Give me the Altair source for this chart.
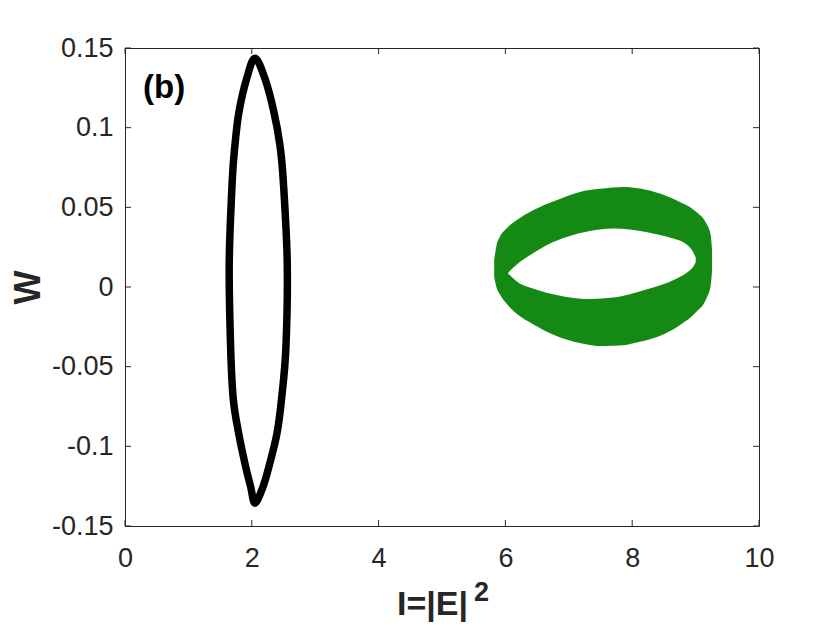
import altair as alt
import pandas as pd

# ---- data ----
# black closed orbit (centre line of the thick black curve), clockwise from the top
black_x = [2.05, 2.207, 2.349, 2.444, 2.496, 2.559, 2.538, 2.470, 2.397, 2.270, 2.176, 2.05,
           1.982, 1.903, 1.793, 1.707, 1.666, 1.644, 1.692, 1.734, 1.797, 1.919]
black_y = [0.1435, 0.1308, 0.1098, 0.0890, 0.0670, 0.0149, -0.0378, -0.0700, -0.0919, -0.1128, -0.1254, -0.1357,
           -0.1254, -0.1128, -0.0919, -0.0700, -0.0378, 0.0149, 0.0670, 0.0890, 0.1098, 0.1308]

# green band: outer boundary (top / bottom as function of I)
green_outer_x = [5.823, 5.860, 5.912, 6.017, 6.175, 6.437, 6.806, 7.173, 7.541, 7.856, 8.119, 8.434,
                 8.750, 9.013, 9.170, 9.239, 9.260]
green_outer_top = [0.0168, 0.0262, 0.0314, 0.0367, 0.0419, 0.0482, 0.0545, 0.0597, 0.0618, 0.0628,
                   0.0618, 0.0587, 0.0534, 0.0471, 0.0398, 0.0325, 0.0231]
green_outer_bottom = [0.0063, -0.0003, -0.0045, -0.0104, -0.0166, -0.0233, -0.0307, -0.0351, -0.0371,
                      -0.0366, -0.0344, -0.0307, -0.0240, -0.0156, -0.0072, 0.0011, 0.0105]
# green band: inner (empty) region
green_inner_x = [6.043, 6.227, 6.385, 6.648, 6.963, 7.331, 7.699, 7.962, 8.329, 8.645, 8.855, 8.960, 9.002]
green_inner_top = [0.0090, 0.0157, 0.0200, 0.0262, 0.0314, 0.0352, 0.0367, 0.0361, 0.0336, 0.0304,
                   0.0268, 0.0220, 0.0185]
green_inner_bottom = [0.0085, 0.0022, -0.0003, -0.0036, -0.0062, -0.0075, -0.0066, -0.0045, -0.0003,
                      0.0043, 0.0088, 0.0126, 0.0155]

x_ticks = [0, 2, 4, 6, 8, 10]
y_ticks = [-0.15, -0.1, -0.05, 0, 0.05, 0.1, 0.15]

W, H = 634, 478
FONT = "Liberation Sans"
TXT = "#262626"

xs = alt.Scale(domain=[0, 10], nice=False, zero=False)
ys = alt.Scale(domain=[-0.15, 0.15], nice=False, zero=False)

xaxis = alt.Axis(values=x_ticks, grid=False, domain=False, ticks=False, tickSize=0,
                 labelFont=FONT, labelFontSize=27, labelColor=TXT, labelPadding=40,
                 labelBaseline="alphabetic", labelFlush=False,
                 labelExpr="format(datum.value, '~g')",
                 title="I=|E|", titleFont=FONT, titleFontSize=34, titleFontWeight="bold",
                 titleColor=TXT, titleX=307, titleY=88, titleBaseline="alphabetic")
yaxis = alt.Axis(values=y_ticks, grid=False, domain=False, ticks=False, tickSize=0,
                 labelFont=FONT, labelFontSize=27, labelColor=TXT, labelPadding=12,
                 labelFlush=False,
                 labelExpr="replace(format(datum.value, '.2~f'), '\u2212', '-')",
                 title="W", titleFont=FONT, titleFontSize=36, titleFontWeight="bold",
                 titleColor=TXT, titleX=-86, titleY=H / 2, titleBaseline="alphabetic",
                 titleAngle=270)

outer_df = pd.DataFrame({"x": green_outer_x, "top": green_outer_top, "bottom": green_outer_bottom})
inner_df = pd.DataFrame({"x": green_inner_x, "top": green_inner_top, "bottom": green_inner_bottom})
black_df = pd.DataFrame({"x": black_x, "y": black_y, "i": list(range(len(black_x)))})

green_outer = alt.Chart(outer_df).mark_area(color="#008000", opacity=0.92, interpolate="monotone").encode(
    x=alt.X("x:Q", scale=xs, axis=xaxis),
    y=alt.Y("top:Q", scale=ys, axis=yaxis),
    y2="bottom:Q",
)
green_inner = alt.Chart(inner_df).mark_area(color="white", opacity=1, interpolate="monotone").encode(
    x=alt.X("x:Q", scale=xs),
    y=alt.Y("top:Q", scale=ys),
    y2="bottom:Q",
)
black = alt.Chart(black_df).mark_line(color="black", strokeWidth=7.5, interpolate="cardinal-closed").encode(
    x=alt.X("x:Q", scale=xs),
    y=alt.Y("y:Q", scale=ys),
    order="i:Q",
)

xt = pd.DataFrame({"t": x_ticks})
yt = pd.DataFrame({"t": y_ticks})
tick_style = dict(color=TXT, strokeWidth=1)
ticks_bottom = alt.Chart(xt).mark_rule(**tick_style).encode(
    x=alt.X("t:Q", scale=xs), y=alt.value(H), y2=alt.value(H - 6))
ticks_top = alt.Chart(xt).mark_rule(**tick_style).encode(
    x=alt.X("t:Q", scale=xs), y=alt.value(0), y2=alt.value(6))
ticks_left = alt.Chart(yt).mark_rule(**tick_style).encode(
    y=alt.Y("t:Q", scale=ys), x=alt.value(0), x2=alt.value(6))
ticks_right = alt.Chart(yt).mark_rule(**tick_style).encode(
    y=alt.Y("t:Q", scale=ys), x=alt.value(W), x2=alt.value(W - 6))

panel = alt.Chart(pd.DataFrame({"t": ["(b)"]})).mark_text(
    font=FONT, fontSize=33, fontWeight="bold", color="black", align="left", baseline="alphabetic"
).encode(text="t:N", x=alt.value(18), y=alt.value(50))

sup = alt.Chart(pd.DataFrame({"t": ["2"]})).mark_text(
    font=FONT, fontSize=27, fontWeight="bold", color=TXT, align="left", baseline="alphabetic"
).encode(text="t:N", x=alt.value(349), y=alt.value(553))

chart = alt.layer(
    green_outer, green_inner, black, ticks_bottom, ticks_top, ticks_left, ticks_right, panel, sup
).properties(
    width=W, height=H,
    autosize=alt.AutoSizeParams(type="none"),
    padding={"left": 117, "top": 40, "right": 65, "bottom": 96},
).configure_view(stroke=TXT, strokeWidth=1)

chart.save("out.html", embed_options={"renderer": "svg", "actions": False})
